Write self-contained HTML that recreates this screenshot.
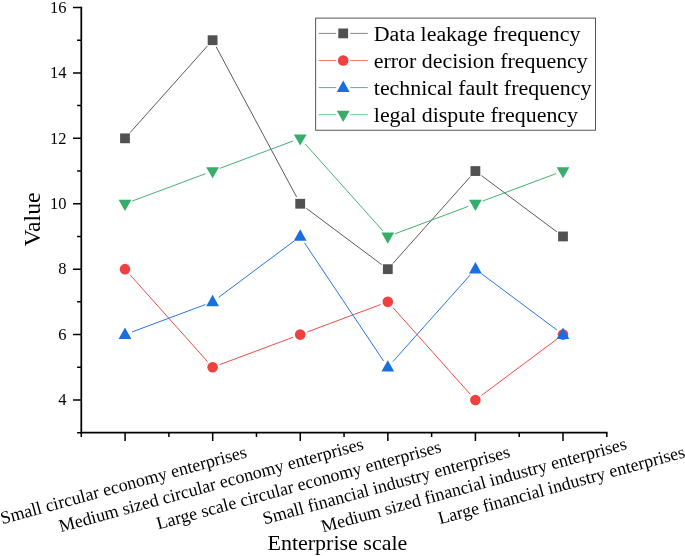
<!DOCTYPE html>
<html><head><meta charset="utf-8"><title>Chart</title><style>html,body{margin:0;padding:0;background:#fff}svg{display:block}</style></head><body>
<svg width="685" height="556" viewBox="0 0 685 556" font-family="'Liberation Serif', serif" fill="#000">
<rect width="685" height="556" fill="#fff"/>
<path d="M130.06 132.66L207.54 45.88M216.19 46.91L296.61 197.05M306.29 208.29L381.71 264.61M392.86 263.49L470.34 176.71M481.49 175.59L556.91 231.91" fill="none" stroke="#515151" stroke-width="0.95"/>
<path d="M130.06 274.83L207.54 361.62M219.72 364.63L293.08 337.24M307.32 331.92L380.68 304.53M392.86 307.54L470.34 394.32M481.49 395.44L556.91 339.12" fill="none" stroke="#F14040" stroke-width="0.95"/>
<path d="M132.12 331.92L205.48 304.53M218.69 297.32L294.11 241.00M304.43 242.77L383.57 360.97M392.86 361.62L470.34 274.83M481.49 273.71L556.91 330.03" fill="none" stroke="#1A6FDF" stroke-width="0.95"/>
<path d="M132.12 201.09L205.48 173.70M219.72 168.38L293.08 140.99M305.26 144.00L382.74 230.78M394.92 233.80L468.28 206.40M482.52 201.09L555.88 173.70" fill="none" stroke="#37AD6B" stroke-width="0.95"/>
<rect x="120.10" y="133.43" width="9.8" height="9.8" fill="#515151"/>
<rect x="207.70" y="35.31" width="9.8" height="9.8" fill="#515151"/>
<rect x="295.30" y="198.85" width="9.8" height="9.8" fill="#515151"/>
<rect x="382.90" y="264.26" width="9.8" height="9.8" fill="#515151"/>
<rect x="470.50" y="166.14" width="9.8" height="9.8" fill="#515151"/>
<rect x="558.10" y="231.55" width="9.8" height="9.8" fill="#515151"/>
<circle cx="125.00" cy="269.16" r="5.3" fill="#F14040"/>
<circle cx="212.60" cy="367.28" r="5.3" fill="#F14040"/>
<circle cx="300.20" cy="334.58" r="5.3" fill="#F14040"/>
<circle cx="387.80" cy="301.87" r="5.3" fill="#F14040"/>
<circle cx="475.40" cy="399.99" r="5.3" fill="#F14040"/>
<circle cx="563.00" cy="334.58" r="5.3" fill="#F14040"/>
<polygon points="118.60,338.88 131.40,338.88 125.00,327.48" fill="#1A6FDF"/>
<polygon points="206.20,306.17 219.00,306.17 212.60,294.77" fill="#1A6FDF"/>
<polygon points="293.80,240.75 306.60,240.75 300.20,229.35" fill="#1A6FDF"/>
<polygon points="381.40,371.58 394.20,371.58 387.80,360.18" fill="#1A6FDF"/>
<polygon points="469.00,273.46 481.80,273.46 475.40,262.06" fill="#1A6FDF"/>
<polygon points="556.60,338.88 569.40,338.88 563.00,327.48" fill="#1A6FDF"/>
<polygon points="118.60,199.85 131.40,199.85 125.00,210.95" fill="#37AD6B"/>
<polygon points="206.20,167.14 219.00,167.14 212.60,178.24" fill="#37AD6B"/>
<polygon points="293.80,134.43 306.60,134.43 300.20,145.53" fill="#37AD6B"/>
<polygon points="381.40,232.55 394.20,232.55 387.80,243.65" fill="#37AD6B"/>
<polygon points="469.00,199.85 481.80,199.85 475.40,210.95" fill="#37AD6B"/>
<polygon points="556.60,167.14 569.40,167.14 563.00,178.24" fill="#37AD6B"/>
<g stroke="#000" fill="none">
<path d="M81.3 6.75 V433.575" stroke-width="1.75"/>
<path d="M80.425 432.7 H607.55" stroke-width="1.75"/>
<path d="M81.3 432.70 h-4.2 M81.3 399.99 h-8.3 M81.3 367.28 h-4.2 M81.3 334.58 h-8.3 M81.3 301.87 h-4.2 M81.3 269.16 h-8.3 M81.3 236.45 h-4.2 M81.3 203.75 h-8.3 M81.3 171.04 h-4.2 M81.3 138.33 h-8.3 M81.3 105.62 h-4.2 M81.3 72.92 h-8.3 M81.3 40.21 h-4.2 M81.3 7.50 h-8.3 M81.30 432.7 v4.2 M125.09 432.7 v8.3 M168.88 432.7 v4.2 M212.68 432.7 v8.3 M256.47 432.7 v4.2 M300.26 432.7 v8.3 M344.05 432.7 v4.2 M387.84 432.7 v8.3 M431.63 432.7 v4.2 M475.43 432.7 v8.3 M519.22 432.7 v4.2 M563.01 432.7 v8.3 M606.80 432.7 v4.2" stroke-width="1.5"/>
</g>
<g font-size="16.5" text-anchor="end">
<text x="66.6" y="405.29">4</text>
<text x="66.6" y="339.88">6</text>
<text x="66.6" y="274.46">8</text>
<text x="66.6" y="209.05">10</text>
<text x="66.6" y="143.63">12</text>
<text x="66.6" y="78.22">14</text>
<text x="66.6" y="12.80">16</text>
</g>
<g font-size="18" text-anchor="middle">
<text transform="translate(125.00,490.7) rotate(-15.3)">Small circular economy enterprises</text>
<text transform="translate(212.60,490.7) rotate(-15.3)">Medium sized circular economy enterprises</text>
<text transform="translate(300.20,490.7) rotate(-15.3)">Large scale circular economy enterprises</text>
<text transform="translate(387.80,490.7) rotate(-15.3)">Small financial industry enterprises</text>
<text transform="translate(475.40,490.7) rotate(-15.3)">Medium sized financial industry enterprises</text>
<text transform="translate(563.00,490.7) rotate(-15.3)">Large financial industry enterprises</text>
</g>
<text font-size="22" text-anchor="middle" x="337.4" y="550.4">Enterprise scale</text>
<text font-size="23.8" text-anchor="middle" transform="translate(40.2,219.5) rotate(-90)">Value</text>
<rect x="315.7" y="18.1" width="279.8" height="112.1" fill="#fff" stroke="#2a2a2a" stroke-width="0.8"/>
<path d="M318.7 33.40 H336.2 M350.2 33.40 H367.8" stroke="#515151" stroke-width="0.7"/>
<rect x="338.30" y="28.50" width="9.8" height="9.8" fill="#515151"/>
<text font-size="21.9" x="373.8" y="41.00">Data leakage frequency</text>
<path d="M318.7 60.50 H336.2 M350.2 60.50 H367.8" stroke="#F14040" stroke-width="0.7"/>
<circle cx="343.20" cy="60.50" r="5.3" fill="#F14040"/>
<text font-size="21.9" x="373.8" y="68.10">error decision frequency</text>
<path d="M318.7 87.60 H336.2 M350.2 87.60 H367.8" stroke="#1A6FDF" stroke-width="0.7"/>
<polygon points="336.80,91.90 349.60,91.90 343.20,80.50" fill="#1A6FDF"/>
<text font-size="21.9" x="373.8" y="95.20">technical fault frequency</text>
<path d="M318.7 114.70 H336.2 M350.2 114.70 H367.8" stroke="#37AD6B" stroke-width="0.7"/>
<polygon points="336.80,110.80 349.60,110.80 343.20,121.90" fill="#37AD6B"/>
<text font-size="21.9" x="373.8" y="122.30">legal dispute frequency</text>
</svg>
</body></html>
